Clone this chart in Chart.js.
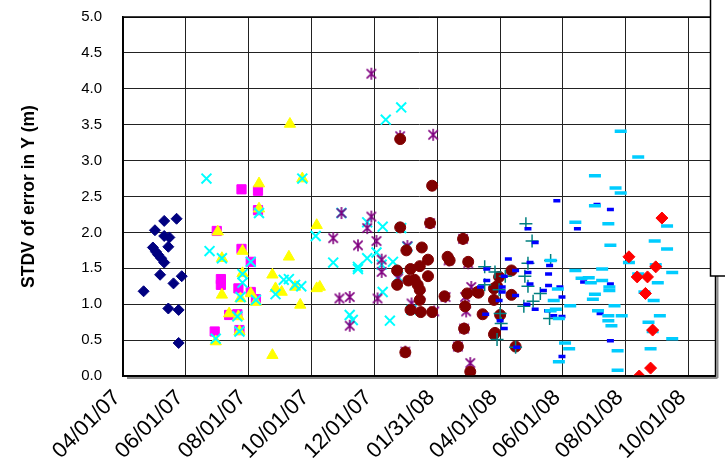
<!DOCTYPE html>
<html>
<head>
<meta charset="utf-8">
<script src="https://cdn.jsdelivr.net/npm/chart.js@4"></script>
<style>
  html, body { margin: 0; padding: 0; background: #fff; }
  #wrap { width: 725px; height: 468px; position: relative; overflow: hidden; }
</style>
</head>
<body>
<div id="wrap"><canvas id="stdvChart"></canvas></div>
<script>
// data: dates (MM/DD/YY) and STDV of error in Y (m)

const navyDates = ['05/23/07','05/11/07','05/02/07','05/11/07','05/16/07','05/15/07','04/30/07','05/03/07','05/05/07','05/08/07','05/11/07','05/07/07','05/28/07','05/20/07','04/21/07','05/15/07','05/25/07','05/25/07'];
const navyValues = [2.19, 2.16, 2.03, 1.95, 1.93, 1.80, 1.79, 1.73, 1.69, 1.64, 1.58, 1.41, 1.39, 1.29, 1.18, 0.94, 0.92, 0.46];

const pinkDates = ['07/25/07','08/10/07','08/10/07','07/01/07','07/25/07','08/03/07','07/05/07','07/05/07','07/22/07','08/03/07','08/08/07','07/13/07','07/21/07','06/29/07','07/23/07'];
const pinkValues = [2.60, 2.58, 2.31, 2.02, 1.77, 1.59, 1.35, 1.27, 1.22, 1.17, 1.07, 0.85, 0.86, 0.62, 0.64];

const yellowDates = ['08/11/07','08/11/07','07/02/07','07/26/07','07/06/07','09/09/07','07/26/07','08/24/07','10/06/07','10/06/07','07/06/07','07/24/07','08/03/07','08/08/07','08/27/07','09/02/07','09/15/07','09/20/07','07/13/07','07/22/07','06/30/07','07/23/07','08/24/07','09/22/07','09/10/07','10/09/07'];
const yellowValues = [2.68, 2.33, 2.01, 1.74, 1.64, 1.66, 1.43, 1.41, 2.10, 1.22, 1.13, 1.08, 1.15, 1.03, 1.22, 1.17, 1.24, 0.99, 0.87, 0.83, 0.48, 0.62, 0.29, 2.75, 3.51, 1.24];

const cyanDates = ['06/21/07','09/22/07','08/11/07','06/24/07','07/06/07','08/03/07','10/05/07','07/26/07','07/26/07','07/24/07','07/21/07','07/23/07','06/30/07','08/08/07','08/27/07','09/04/07','09/09/07','09/15/07','09/21/07','12/27/07','12/12/07','10/30/07','11/24/07','12/09/07','12/27/07','10/22/07','11/15/07','11/15/07','11/24/07','12/03/07','12/19/07','12/08/07','01/02/08','12/24/07','12/09/07','11/07/07','11/10/07','12/16/07','01/06/08'];
const cyanValues = [2.75, 2.75, 2.27, 1.74, 1.64, 1.59, 1.95, 1.42, 1.30, 1.10, 0.83, 0.62, 0.52, 1.06, 1.14, 1.34, 1.35, 1.27, 1.25, 3.74, 3.57, 2.27, 2.14, 2.08, 2.06, 1.58, 1.52, 1.49, 1.64, 1.72, 1.59, 1.55, 1.80, 1.38, 1.17, 0.85, 0.78, 0.77, 0.92];

const purpleDates = ['11/28/07','12/26/07','01/27/08','10/30/07','11/28/07','11/24/07','01/24/08','10/22/07','11/15/07','12/03/07','01/02/08','02/25/08','12/08/07','12/08/07','02/11/08','03/01/08','12/24/07','10/28/07','11/07/07','12/04/07','11/07/07','01/06/08','01/15/08','01/28/08','02/27/08','02/28/08','02/26/08','03/04/08','03/03/08','12/31/07','02/20/08','02/08/08'];
const purpleValues = [4.21, 3.34, 3.36, 2.27, 2.22, 2.06, 2.13, 1.92, 1.82, 1.88, 1.81, 1.91, 1.62, 1.45, 1.61, 1.57, 1.36, 1.08, 1.10, 1.08, 0.70, 1.01, 1.13, 0.90, 1.10, 0.90, 0.66, 1.24, 0.18, 0.34, 0.41, 1.10];

const maroonDates = ['12/26/07','01/26/08','12/26/07','01/24/08','02/25/08','01/01/08','01/16/08','01/22/08','02/10/08','02/12/08','03/01/08','12/23/07','01/05/08','01/14/08','01/22/08','12/23/07','01/03/08','01/09/08','01/12/08','01/14/08','01/14/08','02/07/08','02/29/08','03/10/08','02/27/08','01/05/08','01/15/08','01/26/08','03/15/08','02/26/08','03/26/08','12/31/07','02/20/08','03/03/08','03/26/08','03/26/08','04/12/08','03/31/08','03/29/08','03/11/08','04/12/08','04/01/08','03/27/08','04/16/08'];
const maroonValues = [3.30, 2.65, 2.07, 2.13, 1.91, 1.75, 1.79, 1.62, 1.66, 1.61, 1.59, 1.47, 1.49, 1.53, 1.39, 1.27, 1.33, 1.34, 1.27, 1.20, 1.06, 1.11, 1.15, 1.17, 0.97, 0.92, 0.89, 0.89, 0.86, 0.66, 0.58, 0.33, 0.41, 0.06, 1.22, 1.06, 1.47, 1.38, 1.25, 1.16, 1.13, 0.85, 0.60, 0.41];

const tealDates = ['04/26/08','05/02/08','03/17/08','03/27/08','04/28/08','04/25/08','04/06/08','03/17/08','04/28/08','03/31/08','05/10/08','05/03/08','04/24/08','04/01/08','04/02/08','05/19/08','03/29/08','04/16/08','05/20/08'];
const tealValues = [2.12, 1.88, 1.52, 1.45, 1.57, 1.39, 1.39, 1.27, 1.25, 1.20, 1.15, 1.04, 0.97, 0.87, 0.73, 0.80, 0.51, 0.40, 1.61];

const blueDates = ['05/26/08','07/04/08','07/17/08','04/28/08','06/15/08','05/05/08','04/09/08','04/30/08','05/19/08','03/19/08','04/16/08','04/28/08','05/18/08','04/05/08','03/19/08','04/30/08','05/18/08','03/13/08','04/03/08','05/29/08','04/03/08','05/13/08','04/16/08','05/31/08','03/31/08','04/27/08','05/05/08','05/17/08','03/18/08','05/23/08','05/31/08','04/01/08','04/05/08','04/17/08','07/17/08','07/07/08','05/31/08','07/17/08','06/21/08'];
const blueValues = [2.44, 2.39, 2.32, 2.05, 2.05, 1.86, 1.63, 1.58, 1.54, 1.49, 1.47, 1.44, 1.42, 1.39, 1.33, 1.28, 1.26, 1.24, 1.24, 1.24, 1.17, 1.19, 1.12, 1.10, 1.05, 1.00, 0.93, 0.91, 0.86, 0.84, 0.83, 0.77, 0.66, 0.40, 0.49, 0.87, 0.27, 1.28, 1.31];

const skyDates = ['08/13/08','07/27/08','07/02/08','07/22/08','07/27/08','07/02/08','06/13/08','07/15/08','09/10/08','08/29/08','09/10/08','07/17/08','05/20/08','08/04/08','06/13/08','07/09/08','08/13/08','09/15/08','06/19/08','06/26/08','06/28/08','07/09/08','09/01/08','07/16/08','07/16/08','05/27/08','07/02/08','08/28/08','06/30/08','05/23/08','05/25/08','06/08/08','07/21/08','07/05/08','05/20/08','05/28/08','07/15/08','07/28/08','09/03/08','07/15/08','07/18/08','08/23/08','08/27/08','09/15/08','06/03/08','06/07/08','07/24/08','08/25/08','05/28/08','07/24/08','08/30/08','08/19/08'];
const skyValues = [3.05, 3.41, 2.79, 2.62, 2.55, 2.37, 2.14, 2.12, 2.09, 1.88, 1.77, 1.82, 1.61, 1.58, 1.47, 1.49, 1.42, 1.44, 1.36, 1.37, 1.30, 1.33, 1.30, 1.24, 1.19, 1.21, 1.14, 1.05, 1.07, 1.05, 0.93, 0.98, 0.98, 0.91, 0.91, 0.80, 0.84, 0.84, 0.84, 0.77, 0.70, 0.75, 0.62, 0.52, 0.46, 0.38, 0.35, 0.38, 0.20, 0.08, 1.55, 1.17];

const redDates = ['09/05/08','08/04/08','08/30/08','08/12/08','08/22/08','08/20/08','08/27/08','08/25/08','08/14/08'];
const redValues = [2.20, 1.66, 1.52, 1.38, 1.38, 1.15, 0.64, 0.11, 0.00];

// x axis: days counted from 04/01/07, a major unit every 61 days
const startDate = '04/01/07';
const endDate = '10/27/08';
const majorDays = 61;

const DAY = 86400000;
function toUtc(s) {
  const [m, d, y] = s.split('/').map(Number);
  return Date.UTC(2000 + y, m - 1, d);
}
const base = toUtc(startDate);
function dayOf(s) { return Math.round((toUtc(s) - base) / DAY); }
function fmt(days) {
  const dt = new Date(base + days * DAY);
  const p = n => String(n).padStart(2, '0');
  return p(dt.getUTCMonth() + 1) + '/' + p(dt.getUTCDate()) + '/' + p(dt.getUTCFullYear() % 100);
}
function pts(dates, values) {
  return dates.map((d, i) => ({ x: dayOf(d), y: values[i] }));
}

// excel style asterisk marker (x plus a vertical bar)
function asterisk(size, color) {
  const c = document.createElement('canvas');
  c.width = c.height = size;
  const g = c.getContext('2d');
  const m = size / 2, r = size / 2 - 1, k = r * 0.78;
  g.strokeStyle = color;
  g.lineWidth = 1.6;
  g.beginPath();
  g.moveTo(m - k, m - k); g.lineTo(m + k, m + k);
  g.moveTo(m + k, m - k); g.lineTo(m - k, m + k);
  g.moveTo(m, m - r); g.lineTo(m, m + r);
  g.stroke();
  return c;
}

const frame = {
  id: 'frame',
  afterDatasetsDraw(chart) {
    const { ctx, chartArea: a } = chart;
    ctx.save();
    // shadow of plot area
    ctx.fillStyle = '#8a8a8a';
    ctx.fillRect(a.right + 1, a.top + 4, 2, a.bottom - a.top - 2);
    ctx.fillRect(a.left + 4, a.bottom + 1, a.right - a.left - 2, 2);
    ctx.strokeStyle = '#000';
    ctx.lineWidth = 1.5;
    ctx.strokeRect(a.left, a.top, a.right - a.left, a.bottom - a.top);
    // legend box edge, cut off at the right
    const lx = a.right - 5, ly = a.top + 259;
    ctx.fillStyle = '#fff';
    ctx.fillRect(lx, -5, 40, ly + 5);
    ctx.lineWidth = 1.5;
    ctx.strokeRect(lx, -5, 40, ly + 5);
    ctx.restore();
  }
};

const ctx = document.getElementById('stdvChart').getContext('2d');

const series = [
  { data: pts(navyDates, navyValues), pointStyle: 'rectRot', pointRadius: 5.5, backgroundColor: '#000080', borderColor: '#000080', borderWidth: 1 },
  { data: pts(pinkDates, pinkValues), pointStyle: 'rect', pointRadius: 6.5, backgroundColor: '#FF00FF', borderColor: '#FF00FF', borderWidth: 1 },
  { data: pts(yellowDates, yellowValues), pointStyle: 'triangle', pointRadius: 6.5, backgroundColor: '#FFFF00', borderColor: '#FFFF00', borderWidth: 1 },
  { data: pts(cyanDates, cyanValues), pointStyle: 'crossRot', pointRadius: 7, backgroundColor: '#00FFFF', borderColor: '#00FFFF', borderWidth: 2 },
  { data: pts(purpleDates, purpleValues), pointStyle: asterisk(14, '#800080'), pointRadius: 7, backgroundColor: '#800080', borderColor: '#800080', borderWidth: 1 },
  { data: pts(maroonDates, maroonValues), pointStyle: 'circle', pointRadius: 5.5, backgroundColor: '#800000', borderColor: '#800000', borderWidth: 1 },
  { data: pts(tealDates, tealValues), pointStyle: 'cross', pointRadius: 6.5, backgroundColor: '#008080', borderColor: '#008080', borderWidth: 1.5 },
  { data: pts(blueDates, blueValues), pointStyle: 'line', pointRadius: 3.5, backgroundColor: '#0000FF', borderColor: '#0000FF', borderWidth: 3.5 },
  { data: pts(skyDates, skyValues), pointStyle: 'line', pointRadius: 6, backgroundColor: '#00CCFF', borderColor: '#00CCFF', borderWidth: 3.5 },
  { data: pts(redDates, redValues), pointStyle: 'rectRot', pointRadius: 6, backgroundColor: '#FF0000', borderColor: '#FF0000', borderWidth: 1 }
];
// later series sit on top
series.forEach((s, i) => { s.order = series.length - i; s.pointHoverRadius = s.pointRadius; });

const font = 'Liberation Sans, Arial, sans-serif';

var stdvChart = new Chart(ctx, {
  type: 'scatter',
  data: { datasets: series },
  options: {
    responsive: true,
    maintainAspectRatio: false,
    animation: false,
    layout: { padding: { top: 0, right: 2, left: 0, bottom: 0 } },
    plugins: { legend: { display: false }, tooltip: { enabled: false } },
    scales: {
      x: {
        type: 'linear',
        min: 0,
        max: dayOf(endDate),
        afterFit(scale) { scale.height = 92; },
        grid: { color: '#222', lineWidth: 1, drawTicks: false },
        border: { color: '#000', width: 1.5 },
        ticks: {
          stepSize: majorDays,
          includeBounds: false,
          autoSkip: false,
          minRotation: 45,
          maxRotation: 45,
          padding: 9,
          labelOffset: -6,
          color: '#000',
          font: { family: font, size: 22 },
          callback: v => fmt(v)
        }
      },
      y: {
        min: 0,
        max: 5,
        afterFit(scale) { scale.width = 123; },
        grid: { color: '#222', lineWidth: 1, drawTicks: true, tickLength: 13, tickColor: 'rgba(0,0,0,0)' },
        border: { color: '#000', width: 1.5 },
        ticks: {
          stepSize: 0.5,
          padding: 8,
          color: '#000',
          font: { family: font, size: 15 },
          callback: v => v.toFixed(1)
        },
        title: {
          display: true,
          text: 'STDV of error in Y (m)',
          color: '#000',
          padding: { top: 19, bottom: 0 },
          font: { family: font, size: 17.5, weight: 'bold' }
        }
      }
    }
  },
  plugins: [frame]
});
</script>
</body>
</html>
